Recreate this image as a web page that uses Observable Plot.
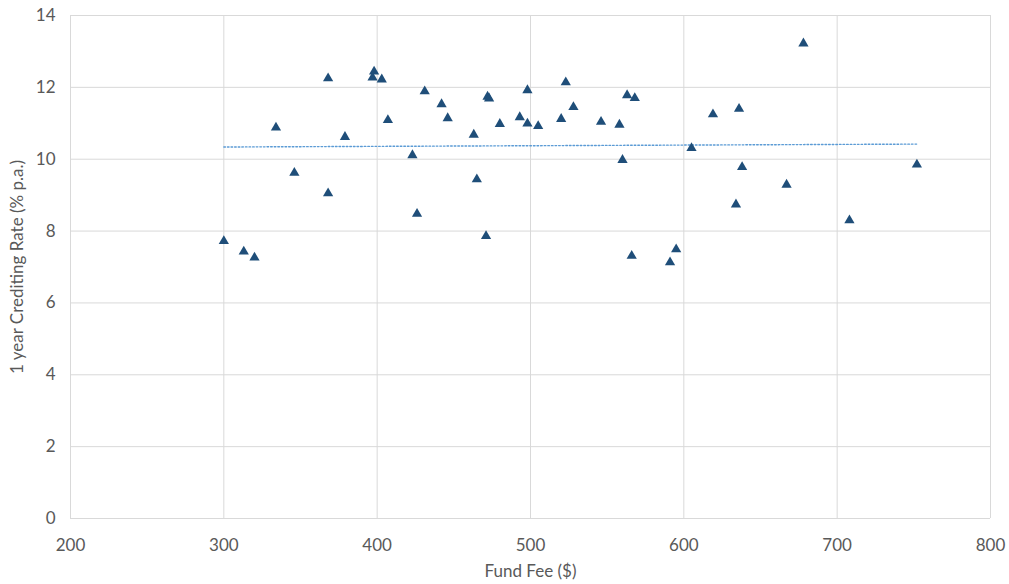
<!DOCTYPE html>
<html>
<head>
<meta charset="utf-8">
<script src="https://cdn.jsdelivr.net/npm/d3@7"></script>
<script src="https://cdn.jsdelivr.net/npm/@observablehq/plot@0.6"></script>
<style>
  html, body { margin: 0; padding: 0; background: #fff; }
  #chart { width: 1009px; height: 584px; }
</style>
</head>
<body>
<div id="chart"></div>
<script>
// Annual fund fee ($) against 1-year crediting rate (% p.a.), one point per fund
const fees = [300, 313, 320, 334, 346, 368, 368, 379, 397, 398, 403, 407, 423, 426, 431, 442, 446,
  463, 465, 471, 472, 473, 480, 493, 498, 498, 505, 520, 523, 528, 546, 558, 560, 563, 566, 568,
  591, 595, 605, 619, 634, 636, 638, 667, 678, 708, 752];
const rates = [7.72, 7.43, 7.26, 10.88, 9.62, 12.25, 9.05, 10.62, 12.27, 12.44, 12.22, 11.09, 10.11,
  8.48, 11.89, 11.53, 11.14, 10.68, 9.44, 7.86, 11.74, 11.69, 10.98, 11.17, 11.92, 10.99, 10.92,
  11.12, 12.14, 11.45, 11.04, 10.96, 9.98, 11.78, 7.31, 11.70, 7.13, 7.49, 10.31, 11.25, 8.74,
  11.40, 9.78, 9.29, 13.22, 8.30, 9.85];

const xTicks = [200, 300, 400, 500, 600, 700, 800];
const yTicks = [0, 2, 4, 6, 8, 10, 12, 14];

const funds = fees.map((fee, i) => ({fee, rate: rates[i]}));

const gridColor = "#d9d9d9";
const textColor = "#595959";
const fontSize = 17;

const chart = Plot.plot({
  width: 1009,
  height: 584,
  marginLeft: 70,
  marginRight: 19,
  marginTop: 15,
  marginBottom: 66,
  style: {fontFamily: "Lato, 'Open Sans', sans-serif", fontSize: "17px", color: textColor, background: "#fff"},
  x: {domain: [200, 800]},
  y: {domain: [0, 14]},
  marks: [
    Plot.gridX(xTicks, {stroke: gridColor, strokeOpacity: 1, strokeWidth: 1}),
    Plot.gridY(yTicks, {stroke: gridColor, strokeOpacity: 1, strokeWidth: 1}),
    Plot.axisX(xTicks, {
      tickSize: 0, tickPadding: 20, fill: textColor, fontSize,
      label: "Fund Fee ($)", labelAnchor: "center", labelArrow: "none", labelOffset: 58
    }),
    Plot.axisY(yTicks, {
      tickSize: 0, tickPadding: 15, fill: textColor, fontSize,
      label: "1 year Crediting Rate (% p.a.)", labelAnchor: "center", labelArrow: "none", labelOffset: 60
    }),
    // Linear trend through the funds, dotted
    Plot.linearRegressionY(funds, {
      x: "fee", y: "rate", ci: 0,
      stroke: "#5b9bd5", strokeWidth: 1.4, strokeDasharray: "1.6,2"
    }),
    Plot.dot(funds, {x: "fee", y: "rate", symbol: "triangle", r: 3.8, fill: "#1f4e79", stroke: "none"})
  ]
});

document.getElementById("chart").appendChild(chart);
</script>
</body>
</html>
